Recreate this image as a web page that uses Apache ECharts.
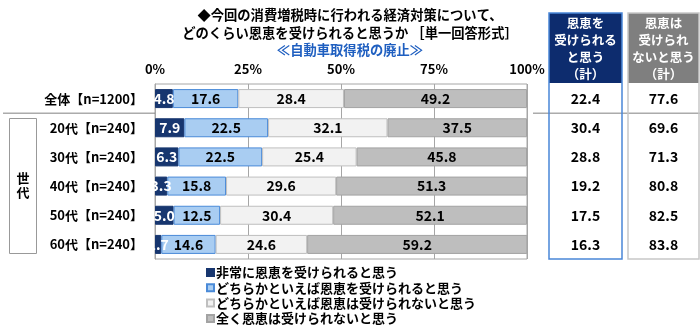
<!DOCTYPE html>
<html>
<head>
<meta charset="utf-8">
<script src="https://cdn.jsdelivr.net/npm/echarts@6/dist/echarts.min.js"></script>
<style>
html,body{margin:0;padding:0;background:#fff;}
#c{width:700px;height:330px;}
</style>
</head>
<body>
<div id="c"></div>
<script>
var categories = ['全体【n=1200】','20代【n=240】','30代【n=240】','40代【n=240】','50代【n=240】','60代【n=240】'];
var seriesNames = ['非常に恩恵を受けられると思う','どちらかといえば恩恵を受けられると思う','どちらかといえば恩恵は受けられないと思う','全く恩恵は受けられないと思う'];
var veryMuch = [4.8, 7.9, 6.3, 3.3, 5.0, 1.7];
var somewhat = [17.6, 22.5, 22.5, 15.8, 12.5, 14.6];
var somewhatNot = [28.4, 32.1, 25.4, 29.6, 30.4, 24.6];
var notAtAll = [49.2, 37.5, 45.8, 51.3, 52.1, 59.2];
var benefitTotal = [22.4, 30.4, 28.8, 19.2, 17.5, 16.3];
var noBenefitTotal = [77.6, 69.6, 71.3, 80.8, 82.5, 83.8];
var tickValues = [0, 25, 50, 75, 100];

var FONT = '"Noto Sans CJK JP", "Noto Sans", sans-serif';
var chart = echarts.init(document.getElementById('c'));

// small segments whose labels were nudged in the original to avoid overlap
var nudgeUp = {3: -4, 5: -4};
var nudgeDown = {3: 4, 5: 4};
function withOffsets(arr, map) {
  return arr.map(function (v, i) {
    if (map[i] !== undefined) return {value: v, label: {offset: [0, map[i]]}};
    return v;
  });
}

var colors = [
  {fill: '#17366F', border: '#17366F', text: '#ffffff'},
  {fill: '#A9CDF2', border: '#4A8AD8', text: '#000000'},
  {fill: '#F2F2F2', border: '#BFBFBF', text: '#000000'},
  {fill: '#BEBEBE', border: '#A3A3A3', text: '#000000'}
];
var dataSets = [withOffsets(veryMuch, nudgeUp), withOffsets(somewhat, nudgeDown), somewhatNot, notAtAll];

var series = dataSets.map(function (d, k) {
  return {
    name: seriesNames[k],
    type: 'bar',
    stack: 'all',
    barWidth: 19,
    data: d,
    itemStyle: {color: colors[k].fill, borderColor: colors[k].border, borderWidth: 1},
    label: {
      show: true,
      position: 'inside',
      color: colors[k].text,
      fontFamily: FONT,
      fontWeight: 'bold',
      fontSize: 14,
      formatter: function (p) { return Number(p.value).toFixed(1); }
    },
    labelLayout: {hideOverlap: false},
    emphasis: {disabled: true}
  };
});

chart.setOption({
  animation: false,
  title: [
    {
      text: '◆今回の消費増税時に行われる経済対策について、\nどのくらい恩恵を受けられると思うか ［単一回答形式］',
      left: 'center', top: 6, padding: 0,
      textStyle: {fontFamily: FONT, fontWeight: 'bold', fontSize: 13.3, lineHeight: 18, color: '#000'}
    },
    {
      text: '≪自動車取得税の廃止≫',
      left: 'center', top: 42, padding: 0,
      textStyle: {fontFamily: FONT, fontWeight: 'bold', fontSize: 13.3, lineHeight: 16, color: '#1F5FC0'}
    }
  ],
  legend: {
    orient: 'vertical',
    left: 206, top: 266, padding: 0,
    itemWidth: 7, itemHeight: 7, itemGap: 2.3,
    icon: 'rect',
    data: seriesNames,
    textStyle: {fontFamily: FONT, fontWeight: 'bold', fontSize: 13, lineHeight: 13, color: '#000', padding: [0,0,0,-3]}
  },
  grid: {left: 155, right: 173, top: 84, bottom: 71, show: true, borderColor: '#A6A6A6', borderWidth: 1, containLabel: false},
  xAxis: {
    type: 'value', position: 'top', min: 0, max: 100, interval: 25,
    axisLine: {show: false}, axisTick: {show: false},
    splitLine: {show: true, lineStyle: {color: '#A6A6A6', width: 1}},
    axisLabel: {formatter: '{value}%', fontFamily: FONT, fontWeight: 'bold', fontSize: 13, color: '#000', margin: 8}
  },
  yAxis: {
    type: 'category', inverse: true, data: categories,
    axisTick: {show: false},
    axisLine: {show: true, lineStyle: {color: '#A6A6A6'}},
    axisLabel: {fontFamily: FONT, fontWeight: 'bold', fontSize: 13, color: '#000', margin: 12}
  },
  series: series
});

// right-side totals table + decorations
var g = [];
var boxTop = 13, headBottom = 83, boxBottom = 259;
var cols = [
  {x: 549, w: 73, head: '#0D2C6E', border: '#4A86D8', lines: ['恩恵を','受けられる','と思う','（計）'], vals: benefitTotal},
  {x: 628, w: 71, head: '#7F7F7F', border: '#C8C8C8', lines: ['恩恵は','受けられ','ないと思う','（計）'], vals: noBenefitTotal}
];
cols.forEach(function (c) {
  g.push({type: 'rect', shape: {x: c.x, y: boxTop, width: c.w, height: headBottom - boxTop}, style: {fill: c.head}, z: 5});
  g.push({type: 'rect', shape: {x: c.x, y: boxTop, width: c.w, height: boxBottom - boxTop}, style: {fill: 'none', stroke: c.border, lineWidth: 1.5}, z: 6});
  c.lines.forEach(function (t, i) {
    g.push({type: 'text', x: c.x + c.w / 2, y: 23 + i * 17, z: 7,
      style: {text: t, fill: '#fff', font: 'bold 12.5px ' + FONT, textAlign: 'center', textVerticalAlign: 'middle'}});
  });
  c.vals.forEach(function (v, i) {
    var y = chart.convertToPixel({yAxisIndex: 0}, categories[i]);
    g.push({type: 'text', x: c.x + c.w / 2, y: y, z: 7,
      style: {text: v.toFixed(1), fill: '#000', font: 'bold 14px ' + FONT, textAlign: 'center', textVerticalAlign: 'middle'}});
  });
});
// separator between total and age groups
var ySep = (chart.convertToPixel({yAxisIndex: 0}, categories[0]) + chart.convertToPixel({yAxisIndex: 0}, categories[1])) / 2;
g.push({type: 'line', shape: {x1: 3, y1: ySep, x2: 155, y2: ySep}, style: {stroke: '#808080', lineWidth: 1}, z: 4});
g.push({type: 'line', shape: {x1: 533, y1: ySep, x2: 700, y2: ySep}, style: {stroke: '#808080', lineWidth: 1}, z: 4});
// 世代 group box
g.push({type: 'rect', shape: {x: 9.5, y: 118.5, width: 27, height: 135}, style: {fill: 'none', stroke: '#999', lineWidth: 1}, z: 4});
g.push({type: 'text', x: 23, y: 178, style: {text: '世', fill: '#000', font: 'bold 13px ' + FONT, textAlign: 'center', textVerticalAlign: 'middle'}, z: 4});
g.push({type: 'text', x: 23, y: 192, style: {text: '代', fill: '#000', font: 'bold 13px ' + FONT, textAlign: 'center', textVerticalAlign: 'middle'}, z: 4});

chart.setOption({graphic: g});
</script>
</body>
</html>
